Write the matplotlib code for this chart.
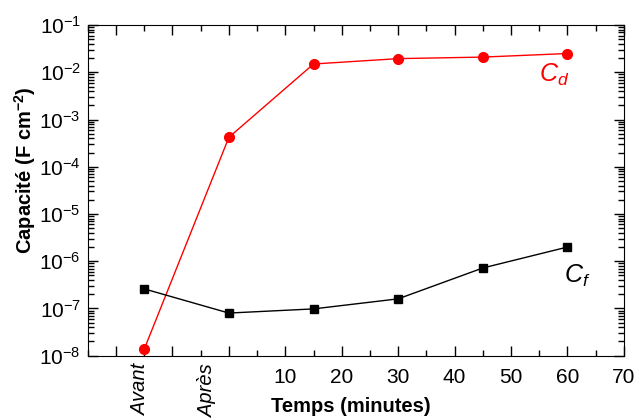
import matplotlib
matplotlib.use("Agg")
import matplotlib.pyplot as plt
from matplotlib.ticker import MultipleLocator, LogLocator, NullFormatter, FuncFormatter
import matplotlib.transforms as mtransforms

plt.rcParams['font.family'] = ['Liberation Sans', 'DejaVu Sans']
plt.rcParams['mathtext.fontset'] = 'custom'
plt.rcParams['mathtext.rm'] = 'Liberation Sans'
plt.rcParams['mathtext.it'] = 'Liberation Sans:italic'
plt.rcParams['mathtext.bf'] = 'Liberation Sans:bold'

# temps (min); "Avant" et "Après" placés à -15 et 0
temps = [-15, 0, 15, 30, 45, 60]
cd = [1.37e-8, 4.2e-4, 1.5e-2, 1.95e-2, 2.1e-2, 2.5e-2]
cf = [2.6e-7, 8.0e-8, 9.8e-8, 1.6e-7, 7.2e-7, 2.0e-6]
cat_labels = ['Avant', 'Après']
cat_pos = [-15.6, -3.7]

fig = plt.figure(figsize=(6.36, 4.18), dpi=100)
ax = fig.add_axes([0.138, 0.149, 0.843, 0.791])

ax.plot(temps, cd, color='red', marker='o', markersize=7, linewidth=1)
ax.plot(temps, cf, color='black', marker='s', markersize=6, linewidth=1)

ax.set_yscale('log')
ax.set_ylim(1e-8, 1e-1)
ax.set_xlim(-25, 70)

ax.xaxis.set_major_locator(MultipleLocator(10))
ax.xaxis.set_minor_locator(MultipleLocator(5))
ax.xaxis.set_major_formatter(FuncFormatter(lambda v, p: '%d' % v if v > 0 else ''))
ax.yaxis.set_major_locator(LogLocator(base=10, numticks=20))
ax.yaxis.set_minor_locator(LogLocator(base=10, subs=range(2, 10), numticks=20))
ax.yaxis.set_minor_formatter(NullFormatter())

ax.tick_params(which='both', direction='in', top=True, right=True, labelsize=15)
ax.tick_params(which='major', length=7, width=1)
ax.tick_params(which='minor', length=4, width=1)
ax.tick_params(axis='x', pad=9)
ax.tick_params(axis='y', pad=5)

trans = mtransforms.blended_transform_factory(ax.transData, ax.transAxes)
for lab, xp in zip(cat_labels, cat_pos):
    ax.text(xp, -0.025, lab, rotation=90, ha='center', va='top', fontsize=14.5,
            style='italic', transform=trans)

ax.text(54.9, 6.3e-3, r'$C_d$', color='red', fontsize=18, ha='left', va='baseline')
ax.text(59.3, 3.5e-7, r'$C_f$', color='black', fontsize=18, ha='left', va='baseline')

ax.set_xlabel('Temps (minutes)', fontsize=14.5, fontweight='bold')
ax.xaxis.set_label_coords(0.49, -0.125)
ax.set_ylabel(r'Capacité (F cm$^{\mathbf{-2}}$)', fontsize=14.5, fontweight='bold')
ax.yaxis.set_label_coords(-0.092, 0.56)

fig.savefig('out.png', dpi=100)
